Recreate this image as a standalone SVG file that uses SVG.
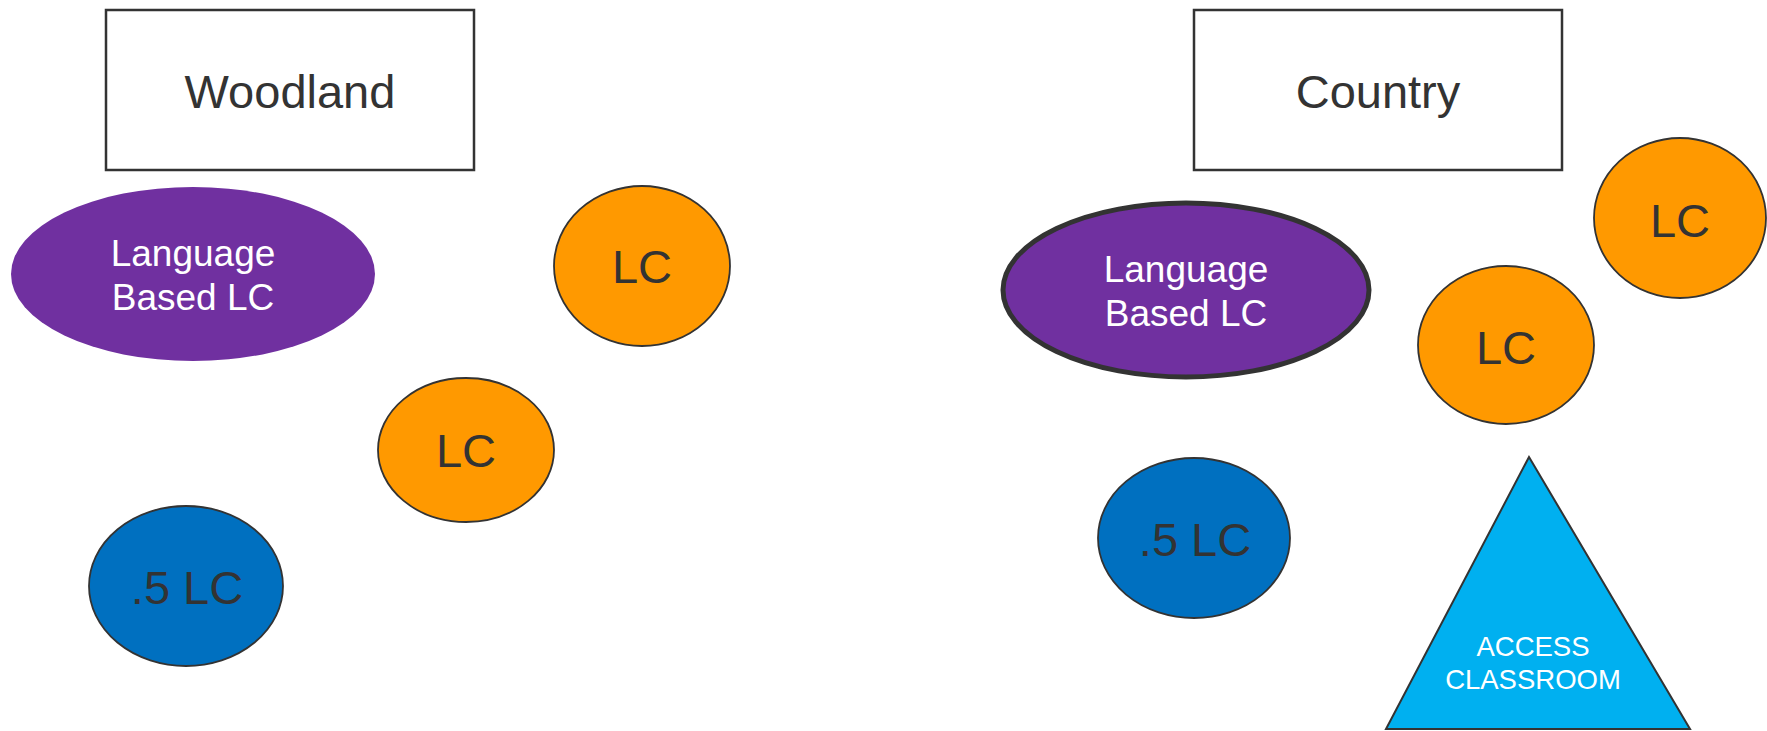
<svg xmlns="http://www.w3.org/2000/svg" width="1767" height="731" viewBox="0 0 1767 731">
<style>
text{font-family:"Liberation Sans",Arial,sans-serif;text-anchor:middle}
.box{fill:#fff;stroke:#333;stroke-width:2.5}
.lbl{fill:#333;font-size:47px}
.wl{fill:#fff;font-size:37px}
.purple{fill:#7030A0}
.orange{fill:#FF9900;stroke:#333;stroke-width:1.8}
.blue{fill:#0070C0;stroke:#333;stroke-width:1.8}
.tri{fill:#00B0F0;stroke:#333;stroke-width:2}
.tl{fill:#fff;font-size:27.5px}
</style>
<rect width="1767" height="731" fill="#fff"/>
<g id="connectors"></g>
<g id="woodland"><rect class="box" x="106" y="10" width="368" height="160"/><text class="lbl" x="290" y="108">Woodland</text></g>
<g id="lang-left"><ellipse class="purple" cx="193" cy="274" rx="182" ry="87"/><text class="wl" x="193" y="266">Language</text><text class="wl" x="193" y="310">Based LC</text></g>
<g id="lc-left-top"><ellipse class="orange" cx="642" cy="266" rx="88" ry="80"/><text class="lbl" x="642" y="283">LC</text></g>
<g id="lc-left-mid"><ellipse class="orange" cx="466" cy="450" rx="88" ry="72"/><text class="lbl" x="466" y="467">LC</text></g>
<g id="half-left"><ellipse class="blue" cx="186" cy="586" rx="97" ry="80"/><text class="lbl" x="187" y="604">.5 LC</text></g>
<g id="country"><rect class="box" x="1194" y="10" width="368" height="160"/><text class="lbl" x="1378" y="108">Country</text></g>
<g id="lang-right"><ellipse class="purple" cx="1186" cy="290" rx="183" ry="87" stroke="#333" stroke-width="5"/><text class="wl" x="1186" y="282">Language</text><text class="wl" x="1186" y="326">Based LC</text></g>
<g id="lc-right-top"><ellipse class="orange" cx="1680" cy="218" rx="86" ry="80"/><text class="lbl" x="1680" y="237">LC</text></g>
<g id="lc-right-mid"><ellipse class="orange" cx="1506" cy="345" rx="88" ry="79"/><text class="lbl" x="1506" y="364">LC</text></g>
<g id="half-right"><ellipse class="blue" cx="1194" cy="538" rx="96" ry="80"/><text class="lbl" x="1195" y="556">.5 LC</text></g>
<g id="access"><polygon class="tri" points="1529,457 1690,729 1386,729"/><text class="tl" x="1533" y="656">ACCESS</text><text class="tl" x="1533" y="689">CLASSROOM</text></g>
</svg>
